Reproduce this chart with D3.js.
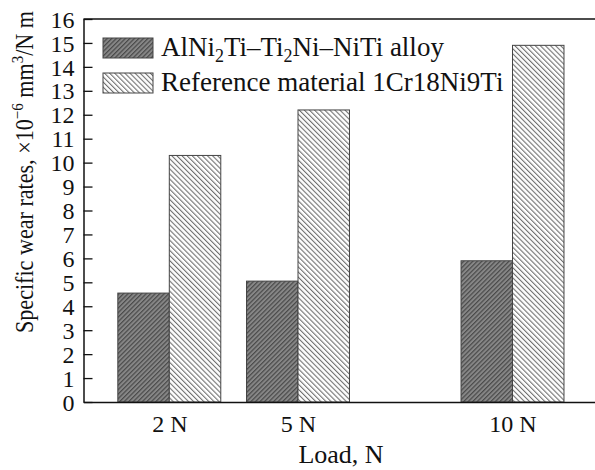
<!DOCTYPE html>
<html><head><meta charset="utf-8">
<script src="https://cdn.jsdelivr.net/npm/d3@7"></script>
<style>body{margin:0;background:#fff}svg{display:block}text{font-family:"Liberation Serif","Times New Roman",serif;fill:#111}</style>
</head><body><svg id="c" width="595" height="470"></svg>
<script>
const loads = [2, 5, 10];
const loadLabels = ["2 N", "5 N", "10 N"];
const alloyValues = [4.55, 5.05, 5.9];
const referenceValues = [10.3, 12.2, 14.9];
const yTicks = d3.range(0, 17, 1);
const seriesNames = ["alloy", "reference"];

const svg = d3.select("#c");
const defs = svg.append("defs");
const pDark = defs.append("pattern").attr("id","pDark").attr("patternUnits","userSpaceOnUse")
  .attr("width",3.2).attr("height",3.2).attr("patternTransform","rotate(45)");
pDark.append("rect").attr("width",3.2).attr("height",3.2).attr("fill","#878787");
pDark.append("rect").attr("width",1.2).attr("height",3.2).attr("fill","#4a4a4a");
const pLight = defs.append("pattern").attr("id","pLight").attr("patternUnits","userSpaceOnUse")
  .attr("width",3.6).attr("height",3.6).attr("patternTransform","rotate(-45)");
pLight.append("rect").attr("width",3.6).attr("height",3.6).attr("fill","#fff");
pLight.append("rect").attr("width",1.1).attr("height",3.6).attr("fill","#707070");

const x = d3.scaleLinear().domain([0, 12]).range([83.5, 598.3]);
const y = d3.scaleLinear().domain([0, 16]).range([402, 19]);
const bw = x(1.2) - x(0);

const fills = {alloy: "url(#pDark)", reference: "url(#pLight)"};
const data = loads.map((l,i)=>({l, alloy: alloyValues[i], reference: referenceValues[i]}));
seriesNames.forEach((s, si) => {
  svg.append("g").selectAll("rect").data(data).join("rect")
    .attr("x", d => x(d.l) - bw + si*bw)
    .attr("y", d => y(d[s]))
    .attr("width", bw)
    .attr("height", d => y(0) - y(d[s]))
    .attr("fill", fills[s])
    .attr("stroke", "#444").attr("stroke-width", 1);
});

// y axis
const yAxis = d3.axisLeft(y).tickValues(yTicks).tickSizeInner(-9).tickSizeOuter(0).tickPadding(9);
const gy = svg.append("g").attr("transform", `translate(${x(0)},0)`).call(yAxis);
gy.select(".domain").attr("stroke","#111").attr("stroke-width",1.5);
gy.selectAll(".tick line").attr("stroke","#111").attr("stroke-width",1.3);
gy.selectAll("text").style("font-size","24px").attr("fill","#111").attr("dy","0.34em");

// x axis
const xAxis = d3.axisBottom(x).tickValues(loads).tickFormat((d,i)=>loadLabels[i]).tickSize(0).tickPadding(13);
const gx = svg.append("g").attr("transform", `translate(0,${y(0)})`).call(xAxis);
gx.select(".domain").attr("stroke","#111").attr("stroke-width",1.5);
gx.selectAll("text").style("font-size","24px").attr("fill","#111");

// top border
svg.append("line").attr("x1",x(0)).attr("x2",595).attr("y1",y(16)).attr("y2",y(16)).attr("stroke","#111").attr("stroke-width",1.5);

// axis titles
svg.append("text").attr("x",341).attr("y",463).attr("text-anchor","middle").style("font-size","26px").text("Load, N");
const yt = svg.append("text").attr("transform","translate(33,172) rotate(-90)").attr("text-anchor","middle")
  .style("font-size","25px").attr("textLength",322).attr("lengthAdjust","spacingAndGlyphs");
yt.append("tspan").text("Specific wear rates,  ×10");
yt.append("tspan").attr("dy",-10).style("font-size","17px").text("−6");
yt.append("tspan").attr("dy",10).text(" mm");
yt.append("tspan").attr("dy",-10).style("font-size","17px").text("3");
yt.append("tspan").attr("dy",10).text("/N m");

// legend
const leg = svg.append("g");
const legItems = [
  {s:"alloy", y:38},
  {s:"reference", y:73}
];
legItems.forEach(it=>{
  leg.append("rect").attr("x",103).attr("y",it.y).attr("width",50).attr("height",20)
    .attr("fill",fills[it.s]).attr("stroke","#444").attr("stroke-width",1);
});
const t1 = leg.append("text").attr("x",161).attr("y",56).style("font-size","27px");
t1.append("tspan").text("AlNi");
t1.append("tspan").attr("dy",6).style("font-size","18px").text("2");
t1.append("tspan").attr("dy",-6).text("Ti–Ti");
t1.append("tspan").attr("dy",6).style("font-size","18px").text("2");
t1.append("tspan").attr("dy",-6).text("Ni–NiTi alloy");
leg.append("text").attr("x",161).attr("y",91).style("font-size","27px").text("Reference material 1Cr18Ni9Ti");
</script></body></html>
